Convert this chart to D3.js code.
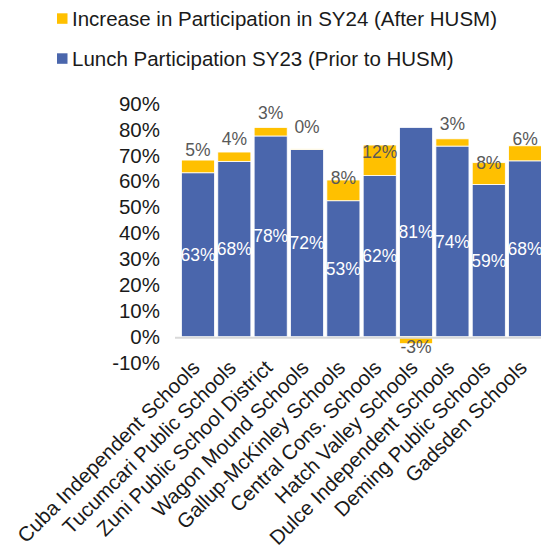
<!DOCTYPE html>
<html>
<head>
<meta charset="utf-8">
<script src="https://cdn.jsdelivr.net/npm/d3@7"></script>
<style>
  body { margin: 0; background: #fff; }
  text { font-family: "Liberation Sans", Arial, sans-serif; }
</style>
</head>
<body>
<div id="chart"></div>
<script>
// schools along the x axis
var schools = ["Cuba Independent Schools", "Tucumcari Public Schools", "Zuni Public School District",
  "Wagon Mound Schools", "Gallup-McKinley Schools", "Central Cons. Schools", "Hatch Valley Schools",
  "Dulce Independent Schools", "Deming Public Schools", "Gadsden Schools"];

// SY23 lunch participation (%)
var sy23 = [63.3, 67.7, 77.5, 72.3, 52.5, 62.2, 80.8, 73.6, 58.8, 67.9];
// change in SY24 (%)
var increase = [4.9, 3.6, 3.3, 0.2, 8.0, 11.8, -2.7, 2.8, 8.4, 5.8];

var yTicks = [-10, 0, 10, 20, 30, 40, 50, 60, 70, 80, 90];

var seriesNames = ["Increase in Participation in SY24 (After HUSM)", "Lunch Participation SY23 (Prior to HUSM)"];

// hand placed label nudges (px) for the increase labels, like in the original
var labelShift = [-10, -13, -15, -22, -2, 7, 0, -15, 0, -7];

var width = 541, height = 548;
var blue = "#4a66ac", yellow = "#ffc000";

var svg = d3.select("#chart").append("svg")
  .attr("width", width)
  .attr("height", height);

var x = d3.scaleBand()
  .domain(schools)
  .range([179.8, 543.3])
  .paddingInner(0.09)
  .paddingOuter(0.045);

var y = d3.scaleLinear()
  .domain([-10, 90])
  .range([362.6, 103.6]);

// y axis tick labels (no line)
svg.append("g")
  .selectAll("text")
  .data(yTicks)
  .join("text")
  .attr("x", 160)
  .attr("y", function(d) { return y(d); })
  .attr("dy", "0.35em")
  .attr("text-anchor", "end")
  .attr("font-size", "20.5px")
  .attr("fill", "#1a1a1a")
  .text(function(d) { return d + "%"; });

// blue bars
svg.append("g")
  .selectAll("rect")
  .data(sy23)
  .join("rect")
  .attr("x", function(d, i) { return x(schools[i]); })
  .attr("width", x.bandwidth())
  .attr("y", function(d) { return y(d); })
  .attr("height", function(d) { return y(0) - y(d); })
  .attr("fill", blue)
  .attr("stroke", "#fff")
  .attr("stroke-width", 0.8);

// yellow bars, stacked on top (negative goes down from 0)
svg.append("g")
  .selectAll("rect")
  .data(increase)
  .join("rect")
  .attr("x", function(d, i) { return x(schools[i]); })
  .attr("width", x.bandwidth())
  .attr("y", function(d, i) { return d >= 0 ? y(sy23[i] + d) : y(0); })
  .attr("height", function(d) { return Math.abs(y(0) - y(Math.abs(d))); })
  .attr("fill", yellow)
  .attr("stroke", "#fff")
  .attr("stroke-width", 0.8);

// zero line
svg.append("line")
  .attr("x1", 175)
  .attr("x2", width)
  .attr("y1", y(0) + 1)
  .attr("y2", y(0) + 1)
  .attr("stroke", "#d9d9d9")
  .attr("stroke-width", 2);

// white labels in blue bars
svg.append("g")
  .selectAll("text")
  .data(sy23)
  .join("text")
  .attr("x", function(d, i) { return x(schools[i]) + x.bandwidth() / 2; })
  .attr("y", function(d) { return y(d / 2); })
  .attr("dy", "0.35em")
  .attr("text-anchor", "middle")
  .attr("font-size", "17.5px")
  .attr("fill", "#fff")
  .text(function(d) { return Math.round(d) + "%"; });

// grey labels for the increase
svg.append("g")
  .selectAll("text")
  .data(increase)
  .join("text")
  .attr("x", function(d, i) { return x(schools[i]) + x.bandwidth() / 2; })
  .attr("y", function(d, i) {
    var base = d >= 0 ? y(sy23[i] + d) : y(d) + 3;
    return base + labelShift[i];
  })
  .attr("dy", "0.35em")
  .attr("text-anchor", "middle")
  .attr("font-size", "17.5px")
  .attr("fill", "#595959")
  .text(function(d) { return Math.round(d) + "%"; });

// x labels, rotated
svg.append("g")
  .selectAll("text")
  .data(schools)
  .join("text")
  .attr("transform", function(d) {
    return "translate(" + (x(d) + x.bandwidth() / 2 + 3) + "," + 369 + ") rotate(-45)";
  })
  .attr("text-anchor", "end")
  .attr("font-size", "20.5px")
  .attr("fill", "#1a1a1a")
  .text(function(d) { return d; });

// legend
var legend = svg.append("g")
  .selectAll("g")
  .data(seriesNames)
  .join("g")
  .attr("transform", function(d, i) { return "translate(57," + (13.3 + i * 40) + ")"; });

legend.append("rect")
  .attr("width", 10.5)
  .attr("height", 10.5)
  .attr("fill", function(d, i) { return i === 0 ? yellow : blue; });

legend.append("text")
  .attr("x", 15)
  .attr("y", 5.3)
  .attr("dy", "0.35em")
  .attr("font-size", "20.5px")
  .attr("fill", "#1a1a1a")
  .text(function(d) { return d; });
</script>
</body>
</html>
